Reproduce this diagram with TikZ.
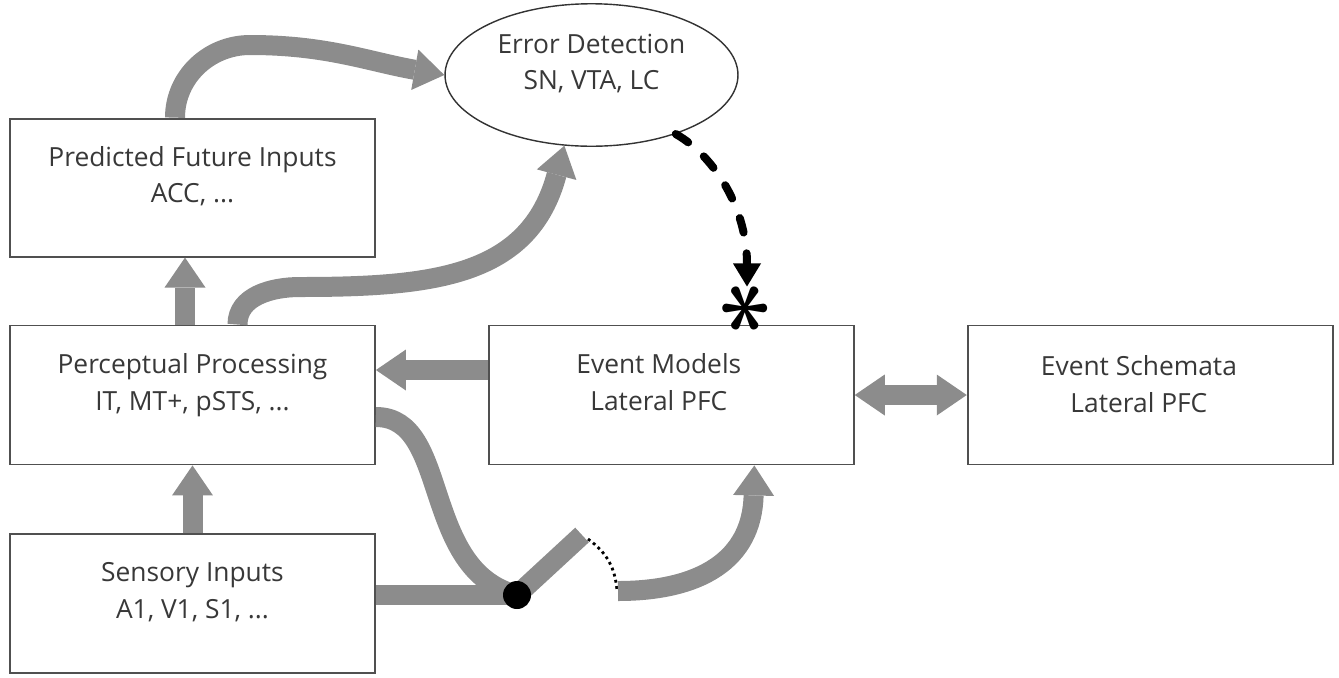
\documentclass[tikz,border=0pt]{standalone}
\usepackage{fontspec}
\setmainfont{Open Sans}
\usepackage{graphicx}
\usetikzlibrary{positioning}
\usetikzlibrary{shapes.geometric}
\usetikzlibrary{arrows.meta}
\definecolor{mycontour}{HTML}{505050}
\definecolor{myflow}{HTML}{8C8C8C}
\definecolor{mytext}{HTML}{383838}

\begin{document}
\begin{tikzpicture}[
    x=0.02cm, y=-0.02cm,
    node distance=1.36cm and 2.24cm,
    font=\fontsize{15}{21}\selectfont,
    text=mytext,
    flowtip/.tip={Triangle[length=0.6cm, width=0.82cm, line width=0pt]},
    box/.style={
      rectangle,
      draw=mycontour,
      line width=1.1pt,
      align=center,
      minimum width=7.3cm,
      minimum height=2.78cm
    },
    flow/.style={draw=myflow, line width=0.4cm, -flowtip},
    wire/.style={draw=myflow, line width=0.4cm}
]
  \useasboundingbox (0,0) rectangle (1339,677);

  \node[box] (perceptual) at (192.5,395) {
    Perceptual Processing
    \\ IT, MT+, pSTS, ...
    \\[-6pt] \mbox{}
  };

  \node[box, minimum height=2.76cm] (predicted) [above=1.34cm of perceptual] {
    Predicted Future Inputs
    \\ ACC, ...
    \\[-6pt] \mbox{}
  };

  \node[box] (sensory) [below=of perceptual] {
    Sensory Inputs
    \\ A1, V1, S1, ...
    \\[-6pt] \mbox{}
  };

  \node[box] (eventmodels) [right=of perceptual] {
    Event Models\hspace*{0.5cm}
    \\ Lateral PFC\hspace*{0.5cm}
    \\[-6pt] \mbox{}
  };

  \node[box] (eventschemata) [right=of eventmodels] {
    Event Schemata\hspace*{0.45cm}
    \\ Lateral PFC\hspace*{0.45cm}
    \\[-8pt] \mbox{}
  };

  \node[ellipse, draw=black!80, line width=0.8pt, align=center,
        minimum width=5.86cm, minimum height=2.85cm] (errordetection) at (591.5,75) {
    Error Detection
    \\ SN, VTA, LC
    \\[-6pt] \mbox{}
  };

  \coordinate (switch) at (517,595);
  \coordinate (levertip) at (582,535);
  \coordinate (gapstart) at (588,539);
  \coordinate (gapend) at (617,591);
  \coordinate (outstart) at (618,591);
  \coordinate (resetpoint) at (747,290);

  \draw[flow] (sensory.north) -- (perceptual.south);
  \draw[flow] ([xshift=-0.15cm]perceptual.north) -- ([xshift=-0.15cm]predicted.south);
  \draw[flow] ([xshift=-0.35cm]predicted.north) to[out=90, in=180] (250,45)
    to[out=0, in=170] (errordetection.west);
  \draw[flow] ([xshift=0.9cm]perceptual.north) to[out=90, in=180] (300,287)
    to[out=0, in=255, looseness=1.15] (errordetection.249);

  \draw[flow] ([yshift=0.5cm]eventmodels.west) -- ([yshift=0.5cm]perceptual.east);
  \draw[flow, flowtip-flowtip] (eventmodels.east) -- (eventschemata.west);

  % gated route into the event models
  \draw[wire] (sensory.east |- switch) -- (switch);
  \draw[wire] ([yshift=-0.44cm]perceptual.east) .. controls +(75,0) and (420,570) .. (switch);
  \draw[wire] (switch) -- (levertip);
  \draw[dotted, line width=1.6pt] (gapstart) to[bend left=25] (gapend);
  \draw[flow] (outstart) .. controls (700,591) and (752,560) .. ([xshift=1.66cm]eventmodels.south);
  \node[circle, fill=black, minimum size=0.56cm, inner sep=0pt] (dot) at (switch) {};

  \node[inner sep=0pt, text=black, rotate=90] (asterisk) at (747,308) {\scalebox{4}{\boldmath$\ast$}};
  \draw[black, line width=0.16cm, line cap=round, dash pattern=on 0.3cm off 0.42cm,
    -{Triangle[length=0.46cm, width=0.56cm, line width=0pt]}, shorten >=2pt]
    (errordetection.-35) .. controls +(40,23) and +(0,-80) .. (resetpoint);

\end{tikzpicture}
\end{document}
